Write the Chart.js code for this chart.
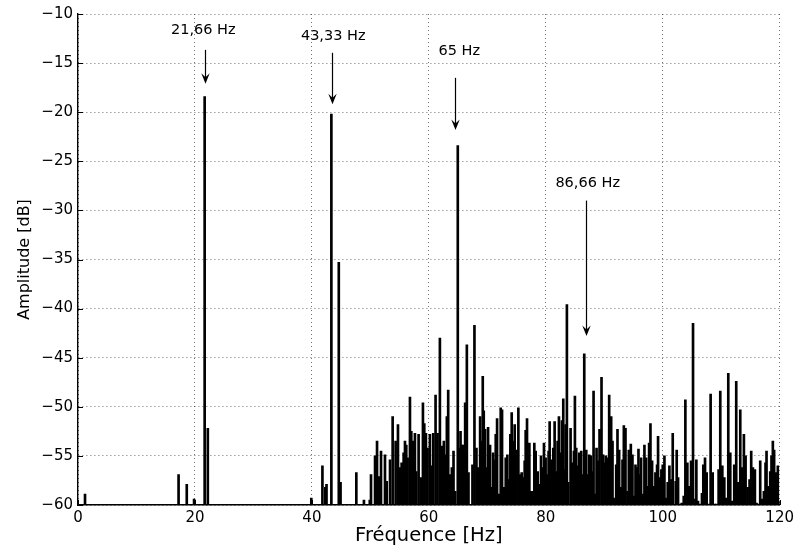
<!DOCTYPE html>
<html>
<head>
<meta charset="utf-8">
<script src="https://cdn.jsdelivr.net/npm/chart.js@4.4.0/dist/chart.umd.min.js"></script>
<style>
  html, body { margin: 0; padding: 0; background: #fff; }
  #wrap { width: 798px; height: 554px; }
</style>
</head>
<body>
<div id="wrap"><canvas id="spectrumChart" width="798" height="554"></canvas></div>
<script>
// Spectre d'amplitude : pics (Hz / dB)
const floorDb = -60;

const freqs = [
  1.2, 17.2, 18.6, 19.85, 21.66, 22.2, 39.9, 41.8, 42.3, 42.5, 43.33, 44.6, 44.9, 47.6, 48.9, 49.9,
  50.11, 50.80, 51.14, 51.42, 51.82, 52.50, 52.79, 53.36, 53.81, 54.32,
  54.72, 55.06, 55.35, 55.69, 55.92, 56.14, 56.37, 56.77, 57.00, 57.28,
  57.62, 57.85, 58.25, 58.65, 58.99, 59.22, 59.50, 59.78, 60.18, 60.47,
  60.75, 61.15, 61.49, 61.89, 62.23, 62.57, 62.86, 63.08, 63.31, 63.65,
  63.94, 64.22, 64.51, 64.95, 65.19, 65.42, 65.70, 65.93, 66.21, 66.50,
  66.78, 67.46, 67.80, 68.14, 68.43, 68.77, 68.99, 69.22, 69.39, 69.62,
  69.85, 70.13, 70.47, 70.70, 70.99, 71.27, 71.44, 71.67, 72.01, 72.29,
  72.52, 72.81, 73.15, 73.43, 73.66, 73.94, 74.17, 74.40, 74.68, 74.97,
  75.31, 75.59, 75.88, 76.10, 76.39, 76.56, 76.79, 76.96, 77.19, 77.47,
  77.70, 78.04, 78.27, 78.61, 78.89, 79.18, 79.40, 79.69, 79.97, 80.26,
  80.48, 80.66, 81.00, 81.28, 81.51, 81.79, 82.02, 82.25, 82.53, 82.76,
  82.99, 83.16, 83.39, 83.61, 83.84, 84.24, 84.53, 84.81, 84.98, 85.21,
  85.44, 85.72, 86.06, 86.29, 86.58, 86.92, 87.15, 87.43, 87.71, 87.94,
  88.17, 88.45, 88.68, 88.97, 89.19, 89.53, 89.82, 90.05, 90.27, 90.62,
  90.84, 91.18, 91.41, 91.70, 92.04, 92.26, 92.55, 92.83, 93.12, 93.35,
  93.63, 93.97, 94.20, 94.54, 94.82, 95.11, 95.34, 95.56, 95.85, 96.08,
  96.30, 96.59, 96.87, 97.16, 97.44, 97.67, 97.90, 98.18, 98.47, 98.75,
  99.03, 99.20, 99.49, 99.77, 100.00, 100.29, 100.57, 100.85, 101.14, 101.42,
  101.71, 102.22, 102.39, 102.62, 102.90, 103.25, 103.59, 103.87, 104.21, 104.44,
  104.84, 105.18, 105.46, 105.75, 106.03, 106.32, 106.71, 106.94, 107.23, 107.51,
  107.80, 108.19, 108.54, 108.82, 109.16, 109.56, 109.84, 110.19, 110.53, 110.87,
  111.21, 111.55, 111.89, 112.23, 112.57, 112.86, 113.26, 113.54, 113.88, 114.17,
  114.51, 114.85, 115.13, 115.42, 115.76, 116.04, 116.39, 116.67, 117.01, 117.30,
  117.58, 117.75, 118.03, 118.38, 118.60, 118.83, 119.05, 119.40, 119.68, 119.97
];

const amps = [
  -58.9, -56.9, -57.9, -59.4, -18.4, -52.2, -59.3, -56.0, -58.2, -57.9, -20.2, -35.3, -57.7, -56.7, -59.5, -59.5,
  -56.9, -55.0, -53.5, -57.1, -54.5, -54.9, -57.6, -55.4, -51.0, -53.5,
  -51.8, -56.2, -55.7, -54.7, -53.5, -53.9, -55.2, -49.0, -52.5, -53.5,
  -52.7, -56.6, -52.8, -57.2, -49.6, -51.7, -52.7, -54.2, -52.8, -56.0,
  -52.7, -48.8, -52.7, -43.0, -54.0, -53.5, -54.9, -51.0, -48.3, -56.9,
  -56.2, -54.5, -58.6, -23.4, -54.2, -52.5, -53.9, -53.9, -49.6, -43.7,
  -56.7, -55.9, -41.7, -54.2, -56.2, -51.0, -53.5, -46.9, -50.4, -52.3,
  -56.2, -52.1, -53.9, -58.2, -54.7, -55.4, -52.8, -51.2, -58.9, -50.1,
  -50.3, -58.2, -55.2, -54.9, -57.4, -52.8, -50.6, -53.5, -51.8, -54.4,
  -50.1, -56.9, -56.7, -57.2, -55.5, -52.4, -51.2, -55.0, -53.7, -58.6,
  -58.6, -53.7, -54.5, -56.6, -57.9, -55.0, -56.2, -53.7, -55.2, -56.9,
  -54.5, -51.5, -55.4, -54.2, -51.5, -56.6, -53.5, -51.0, -54.7, -51.4,
  -49.2, -56.4, -51.8, -39.6, -57.7, -52.2, -55.7, -54.5, -48.9, -54.2,
  -56.0, -54.7, -54.5, -56.9, -44.6, -54.4, -56.9, -54.9, -55.0, -56.6,
  -48.4, -58.9, -54.2, -55.5, -52.3, -47.0, -54.9, -55.7, -55.0, -55.2,
  -48.8, -51.0, -53.5, -59.3, -55.9, -52.3, -54.4, -58.2, -55.4, -51.9,
  -52.2, -58.6, -54.4, -53.8, -54.9, -59.1, -55.9, -56.2, -54.3, -56.9,
  -55.2, -58.9, -53.9, -55.2, -58.1, -53.7, -51.7, -55.5, -58.1, -56.7,
  -55.9, -53.0, -57.2, -56.4, -55.9, -55.0, -59.3, -57.7, -56.0, -57.4,
  -52.7, -57.6, -54.4, -57.2, -59.9, -59.8, -59.1, -49.3, -55.7, -58.1,
  -55.5, -41.5, -59.4, -55.4, -59.6, -59.9, -58.8, -55.9, -55.2, -56.7,
  -59.9, -48.7, -56.7, -59.9, -59.9, -56.4, -48.4, -56.0, -57.2, -59.3,
  -46.6, -54.7, -59.6, -55.9, -47.4, -57.7, -50.3, -56.2, -52.8, -55.0,
  -58.2, -57.4, -54.5, -56.2, -56.4, -59.8, -59.9, -55.5, -59.4, -58.6,
  -55.7, -54.5, -58.1, -56.6, -55.0, -53.5, -54.4, -56.7, -56.0, -59.6
];

const xTicks = [0, 20, 40, 60, 80, 100, 120];
const yTicks = [-60, -55, -50, -45, -40, -35, -30, -25, -20, -15, -10];

// Annotations des harmoniques (texte + flèche)
const peakLabels = ['21,66 Hz', '43,33 Hz', '65 Hz', '86,66 Hz'];
const annotations = [
  { text: peakLabels[0], textX: 21.42, textDb: -11.7, arrowX: 21.67, fromDb: -13.65, toDb: -17.1 },
  { text: peakLabels[1], textX: 43.65, textDb: -12.3, arrowX: 43.4, fromDb: -13.95, toDb: -19.2 },
  { text: peakLabels[2], textX: 65.2, textDb: -13.8, arrowX: 64.5, fromDb: -16.5, toDb: -21.8 },
  { text: peakLabels[3], textX: 87.17, textDb: -27.2, arrowX: 86.95, fromDb: -29.0, toDb: -42.8 }
];

const fontFamily = "'DejaVu Sans', sans-serif";
Chart.defaults.font.family = fontFamily;
Chart.defaults.color = '#000';

// Petites graduations vers l'intérieur (style MATLAB)
const innerTicks = {
  id: 'innerTicks',
  afterDatasetsDraw(chart) {
    const { ctx, chartArea, scales } = chart;
    ctx.save();
    ctx.strokeStyle = '#000';
    ctx.lineWidth = 1;
    ctx.beginPath();
    xTicks.forEach(v => {
      const px = Math.round(scales.x.getPixelForValue(v)) + 0.5;
      ctx.moveTo(px, chartArea.bottom);
      ctx.lineTo(px, chartArea.bottom - 5);
    });
    yTicks.forEach(v => {
      const py = Math.round(scales.y.getPixelForValue(v)) + 0.5;
      ctx.moveTo(chartArea.left, py);
      ctx.lineTo(chartArea.left + 5, py);
    });
    ctx.stroke();
    ctx.restore();
  }
};

const peakArrows = {
  id: 'peakArrows',
  afterDatasetsDraw(chart) {
    const { ctx, scales } = chart;
    ctx.save();
    ctx.fillStyle = '#000';
    ctx.strokeStyle = '#000';
    ctx.font = '14.5px ' + fontFamily;
    ctx.textAlign = 'center';
    ctx.textBaseline = 'middle';
    annotations.forEach(a => {
      ctx.fillText(a.text, scales.x.getPixelForValue(a.textX), scales.y.getPixelForValue(a.textDb));
      const x = Math.round(scales.x.getPixelForValue(a.arrowX)) + 0.5;
      const y1 = scales.y.getPixelForValue(a.fromDb);
      const y2 = scales.y.getPixelForValue(a.toDb);
      ctx.lineWidth = 1.2;
      ctx.beginPath();
      ctx.moveTo(x, y1);
      ctx.lineTo(x, y2 - 4);
      ctx.stroke();
      ctx.beginPath();
      ctx.moveTo(x, y2);
      ctx.lineTo(x - 4.2, y2 - 10.5);
      ctx.lineTo(x, y2 - 6.5);
      ctx.lineTo(x + 4.2, y2 - 10.5);
      ctx.closePath();
      ctx.fill();
    });
    ctx.restore();
  }
};

const ctx = document.getElementById('spectrumChart').getContext('2d');
new Chart(ctx, {
  type: 'bar',
  data: {
    datasets: [{
      label: 'Amplitude',
      data: freqs.map((f, i) => ({ x: f, y: [floorDb, amps[i]] })),
      backgroundColor: '#000',
      borderWidth: 0,
      barThickness: 2,
      grouped: false
    }]
  },
  options: {
    responsive: false,
    animation: false,
    devicePixelRatio: 1,
    layout: { padding: { top: 12, right: 17, left: 0, bottom: 0 } },
    plugins: {
      legend: { display: false },
      tooltip: { enabled: false }
    },
    scales: {
      x: {
        type: 'linear',
        min: 0,
        max: 120,
        offset: false,
        afterBuildTicks: scale => { scale.ticks = xTicks.map(v => ({ value: v })); },
        afterFit: scale => { scale.height = 49; },
        grid: { offset: false, color: 'rgba(0,0,0,0.55)', lineWidth: 1, drawTicks: false },
        border: { display: true, color: '#000', width: 1.4, dash: [1, 3] },
        ticks: { padding: 4, font: { size: 15 }, maxRotation: 0 },
        title: { display: true, text: 'Fréquence [Hz]', font: { size: 19.5 }, padding: { top: 0, bottom: 6 } }
      },
      y: {
        min: -60,
        max: -10,
        afterBuildTicks: scale => { scale.ticks = yTicks.map(v => ({ value: v })); },
        afterFit: scale => { scale.width = 78; },
        grid: { color: 'rgba(0,0,0,0.55)', lineWidth: 1, drawTicks: false },
        border: { display: true, color: '#000', width: 1.4, dash: [1, 3] },
        ticks: {
          padding: 5,
          font: { size: 15 },
          callback: v => (v < 0 ? '\u2212' : '') + Math.abs(v)
        },
        title: { display: true, text: 'Amplitude [dB]', font: { size: 16 }, padding: { top: 15, bottom: 0 } }
      }
    }
  },
  plugins: [innerTicks, peakArrows]
});
</script>
</body>
</html>
